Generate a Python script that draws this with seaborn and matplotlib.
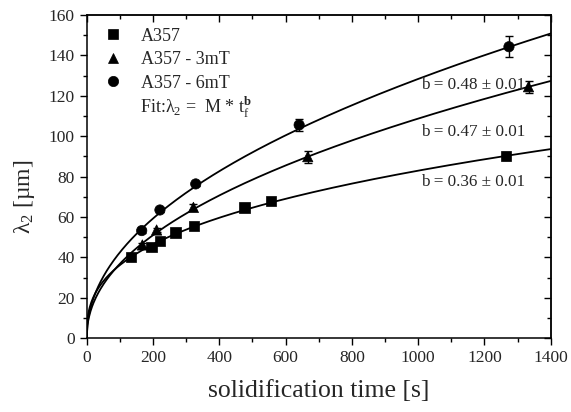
import numpy as np
import pandas as pd
import seaborn as sns
import matplotlib.pyplot as plt
from matplotlib.ticker import MultipleLocator, NullFormatter

# data: solidification time [s], lambda_2 [um], error
t_a357 = [133, 196, 221, 268, 324, 476, 556, 1264]
l_a357 = [40.4, 45.3, 48.3, 52.3, 55.7, 64.8, 68.1, 90.2]
e_a357 = [1.0, 1.0, 1.0, 1.0, 1.0, 1.0, 1.0, 2.0]

t_3mt = [168, 211, 322, 667, 1333]
l_3mt = [46.2, 53.6, 64.8, 89.9, 124.5]
e_3mt = [1.0, 1.0, 1.5, 3.0, 3.0]

t_6mt = [166, 221, 329, 641, 1274]
l_6mt = [53.3, 63.5, 76.4, 105.6, 144.3]
e_6mt = [1.0, 1.0, 1.0, 3.0, 5.1]

series = ["A357", "A357 - 3mT", "A357 - 6mT"]
markers = {"A357": "s", "A357 - 3mT": "^", "A357 - 6mT": "o"}

# fit lambda_2 = M * t_f^b
fit_M = [6.9, 4.23, 4.66]
fit_b = [0.36, 0.47, 0.48]
b_labels = ["b = 0.36 \u00b1 0.01", "b = 0.47 \u00b1 0.01", "b = 0.48 \u00b1 0.01"]
b_label_y = [77.5, 102.2, 125.4]

rows = []
for name, ts, ls, es in [("A357", t_a357, l_a357, e_a357),
                         ("A357 - 3mT", t_3mt, l_3mt, e_3mt),
                         ("A357 - 6mT", t_6mt, l_6mt, e_6mt)]:
    for t, l, e in zip(ts, ls, es):
        rows.append({"alloy": name, "t": t, "lam": l, "err": e})
df = pd.DataFrame(rows)

sns.set_style("ticks")
plt.rcParams["font.family"] = ["Liberation Serif", "DejaVu Serif"]
plt.rcParams["mathtext.fontset"] = "custom"
plt.rcParams["mathtext.rm"] = "Liberation Serif"
plt.rcParams["mathtext.it"] = "Liberation Serif:italic"
plt.rcParams["mathtext.bf"] = "Liberation Serif:bold"

fig = plt.figure(figsize=(5.71, 4.12), dpi=100)
ax = fig.add_axes([0.1518, 0.1789, 0.8127, 0.7847])

# fit curves
tt = np.linspace(0, 1400, 600)
for M, b in zip(fit_M, fit_b):
    sns.lineplot(x=tt, y=M * tt ** b, ax=ax, color="black", lw=1.3)

# error bars
for name in series:
    d = df[df["alloy"] == name]
    ax.errorbar(d["t"], d["lam"], yerr=d["err"], fmt="none", ecolor="black",
                elinewidth=1, capsize=3, capthick=1, zorder=3)

sns.scatterplot(data=df, x="t", y="lam", style="alloy", markers=markers,
                color="black", s=55, edgecolor="black", linewidth=0.5,
                ax=ax, zorder=4, legend=True)

leg = ax.legend(loc="upper left", bbox_to_anchor=(-0.01, 1.0), frameon=False,
                fontsize=13, labelspacing=0.36, handletextpad=0.55,
                borderaxespad=0.3, markerscale=1.0, title=None)
for h in leg.legend_handles:
    h.set_color("black")

ax.text(0.115, 0.715, "Fit:\u03bb$_2$ =  M * t$_\\mathrm{f}^{\\mathbf{b}}$",
        transform=ax.transAxes, fontsize=13, va="center", ha="left")

for lab, y in zip(b_labels, b_label_y):
    ax.text(1008, y, lab, fontsize=12.3, va="center", ha="left")

ax.set_xlim(0, 1400)
ax.set_ylim(0, 160)
for axis, major, minor in [(ax.xaxis, 200, 100), (ax.yaxis, 20, 10)]:
    axis.set_major_locator(MultipleLocator(major))
    axis.set_minor_locator(MultipleLocator(minor))
ax.tick_params(which="both", direction="out", labelsize=12.5, width=1,
               color="black")
ax.tick_params(which="major", length=5)
ax.tick_params(which="minor", length=3)

# mirrored ticks on top and right point inward
top = ax.secondary_xaxis("top")
right = ax.secondary_yaxis("right")
for sec, axis, major, minor in [(top, top.xaxis, 200, 100),
                                (right, right.yaxis, 20, 10)]:
    axis.set_major_locator(MultipleLocator(major))
    axis.set_minor_locator(MultipleLocator(minor))
    axis.set_major_formatter(NullFormatter())
    sec.tick_params(which="both", direction="in", width=1, color="black")
    sec.tick_params(which="major", length=5)
    sec.tick_params(which="minor", length=3)
    for sp in sec.spines.values():
        sp.set_linewidth(1.1)

for sp in ax.spines.values():
    sp.set_linewidth(1.1)
    sp.set_color("black")
ax.set_xlabel("solidification time [s]", fontsize=18.5, labelpad=10)
ax.set_ylabel("\u03bb$_2$ [\u00b5m]", fontsize=17)
ax.yaxis.set_label_coords(-0.107, 0.437)

fig.savefig("out.png", dpi=100)
